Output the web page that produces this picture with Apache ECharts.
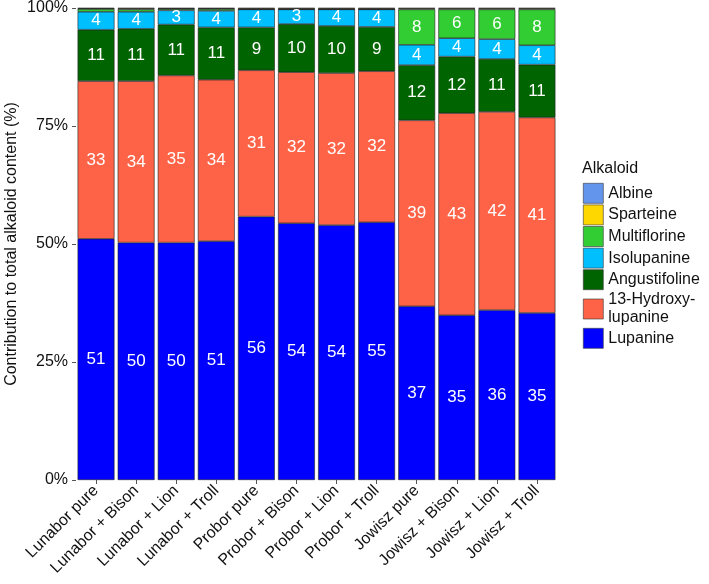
<!DOCTYPE html>
<html>
<head>
<meta charset="utf-8">
<script src="https://cdn.jsdelivr.net/npm/echarts@6/dist/echarts.min.js"></script>
<style>
  html, body { margin: 0; padding: 0; background: #fff; }
  #chart { width: 709px; height: 584px; }
</style>
</head>
<body>
<div id="chart"></div>
<script>
// samples (x axis)
var samples = ['Lunabor pure', 'Lunabor + Bison', 'Lunabor + Lion', 'Lunabor + Troll',
  'Probor pure', 'Probor + Bison', 'Probor + Lion', 'Probor + Troll',
  'Jowisz pure', 'Jowisz + Bison', 'Jowisz + Lion', 'Jowisz + Troll']

// share of each alkaloid, % of total
var lupanine     = [51.1, 50.3, 50.3, 50.6, 55.8, 54.4, 54.0, 54.6, 36.8, 34.9, 36.0, 35.4]
var hydroxy      = [33.4, 34.2, 35.4, 34.2, 31.0, 32.0, 32.2, 32.0, 39.4, 42.8, 42.0, 41.4]
var angustifol   = [10.9, 11.1, 10.8, 11.1,  9.1, 10.2, 10.0,  9.4, 11.7, 12.0, 11.2, 11.2]
var isolupanine  = [ 3.8,  3.6,  3.0,  3.5,  3.8,  3.1,  3.5,  3.7,  4.3,  3.9,  4.2,  4.1]
var multiflorine = [ 0.6,  0.5,  0.3,  0.4,  0.0,  0.0,  0.0,  0.0,  7.5,  6.1,  6.3,  7.6]
var sparteine    = [ 0.1,  0.2,  0.1,  0.1,  0.2,  0.2,  0.2,  0.2,  0.2,  0.2,  0.2,  0.2]
var albine       = [ 0.1,  0.1,  0.1,  0.1,  0.1,  0.1,  0.1,  0.1,  0.1,  0.1,  0.1,  0.1]

var yTicks = ['0%', '25%', '50%', '75%', '100%']

var font = 'Liberation Sans, Arial, Helvetica, sans-serif'

function mkSeries (name, data, color) {
  return {
    name: name,
    type: 'bar',
    stack: 'all',
    data: data,
    barCategoryGap: '8%',
    itemStyle: { color: color, borderColor: '#222', borderWidth: 0.6 },
    label: {
      show: true,
      position: 'inside',
      color: '#fff',
      fontFamily: font,
      fontSize: 17,
      formatter: function (p) {
        return p.value >= 2.5 ? Math.round(p.value) : ''
      }
    }
  }
}

var chart = echarts.init(document.getElementById('chart'), null, { renderer: 'canvas' })

chart.setOption({
  animation: false,
  textStyle: { fontFamily: font },
  grid: { left: 76, right: 152, top: 8, bottom: 104, outerBoundsMode: 'none', containLabel: false },
  legend: {
    orient: 'vertical',
    left: 583,
    top: 183,
    padding: 0,
    itemWidth: 20,
    itemHeight: 20,
    itemGap: 1,
    icon: 'rect',
    selectedMode: false,
    data: ['Albine', 'Sparteine', 'Multiflorine', 'Isolupanine', 'Angustifoline', '13-Hydroxy-lupanine', 'Lupanine'],
    formatter: function (n) {
      return n === '13-Hydroxy-lupanine' ? '13-Hydroxy-\nlupanine' : n
    },
    itemStyle: { borderColor: '#333', borderWidth: 0.6 },
    textStyle: { fontSize: 16, color: '#111', lineHeight: 18 }
  },
  graphic: [{
    type: 'text',
    left: 582,
    top: 161,
    style: { text: 'Alkaloid', fontSize: 16, fill: '#111', fontFamily: font }
  }],
  xAxis: {
    type: 'category',
    data: samples,
    axisLine: { show: false },
    axisTick: { show: true, alignWithLabel: true, length: 4, lineStyle: { color: '#555' } },
    axisLabel: { rotate: 45, fontSize: 16, color: '#111', margin: 8, interval: 0 }
  },
  yAxis: {
    type: 'value',
    min: 0,
    max: 100,
    interval: 25,
    name: 'Contribution to total alkaloid content (%)',
    nameLocation: 'middle',
    nameGap: 56,
    nameMoveOverlap: false,
    nameTextStyle: { fontSize: 16, color: '#111' },
    splitLine: { show: false },
    axisLine: { show: false },
    axisTick: { show: true, length: 4, lineStyle: { color: '#555' } },
    axisLabel: {
      fontSize: 16,
      color: '#111',
      margin: 8,
      formatter: function (v) { return yTicks[v / 25] }
    }
  },
  series: [
    mkSeries('Lupanine', lupanine, '#0000ff'),
    mkSeries('13-Hydroxy-lupanine', hydroxy, '#ff6347'),
    mkSeries('Angustifoline', angustifol, '#006400'),
    mkSeries('Isolupanine', isolupanine, '#00bfff'),
    mkSeries('Multiflorine', multiflorine, '#32cd32'),
    mkSeries('Sparteine', sparteine, '#ffd700'),
    mkSeries('Albine', albine, '#6495ed')
  ]
})
</script>
</body>
</html>
